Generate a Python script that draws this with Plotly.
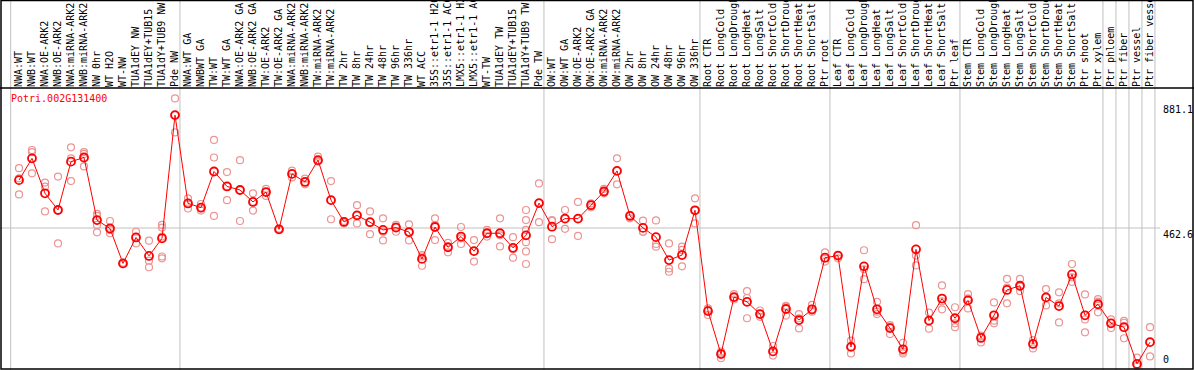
import plotly.graph_objects as go

gene = "Potri.002G131400"

labels = [
    "NWA:WT", "NWB:WT", "NWA:OE-ARK2", "NWB:OE-ARK2", "NWA:miRNA-ARK2", "NWB:miRNA-ARK2",
    "NW 0hr", "WT H2O", "WT-NW", "TUA1dEY NW", "TUA1dEY+TUB15", "TUA1dY+TUB9 NW", "Pde NW",
    "NWA:WT GA", "NWBWT GA", "TW:WT", "TW:WT GA", "NWA:OE-ARK2 GA", "NWB:OE-ARK2 GA",
    "TW:OE-ARK2", "TW:OE-ARK2 GA", "NWA:miRNA-ARK2", "NWB:miRNA-ARK2", "TW:miRNA-ARK2",
    "TW:miRNA-ARK2", "TW 2hr", "TW 8hr", "TW 24hr", "TW 48hr", "TW 96hr", "TW 336hr", "WT ACC",
    "35S::etr1-1 H2O", "35S::etr1-1 ACC", "LMX5::etr1-1 H2O", "LMX5::etr1-1 ACC", "WT-TW",
    "TUA1dEY TW", "TUA1dEY+TUB15", "TUA1dY+TUB9 TW", "Pde TW",
    "OW:WT", "OW:WT GA", "OW:OE-ARK2", "OW:OE-ARK2 GA", "OW:miRNA-ARK2", "OW:miRNA-ARK2",
    "OW 2hr", "OW 8hr", "OW 24hr", "OW 48hr", "OW 96hr", "OW 336hr",
    "Root CTR", "Root LongCold", "Root LongDrought", "Root LongHeat", "Root LongSalt",
    "Root ShortCold", "Root ShortDrought", "Root ShortHeat", "Root ShortSalt", "Ptr root",
    "Leaf CTR", "Leaf LongCold", "Leaf LongDrought", "Leaf LongHeat", "Leaf LongSalt",
    "Leaf ShortCold", "Leaf ShortDrought", "Leaf ShortHeat", "Leaf ShortSalt", "Ptr leaf",
    "Stem CTR", "Stem LongCold", "Stem LongDrought", "Stem LongHeat", "Stem LongSalt",
    "Stem ShortCold", "Stem ShortDrought", "Stem ShortHeat", "Stem ShortSalt", "Ptr shoot",
    "Ptr xylem", "Ptr phloem", "Ptr fiber", "Ptr vessel", "Ptr fiber vessel",
]

mean_values = [
    623, 696, 579, 523, 685, 699, 489, 461, 344, 431, 369, 428, 841,
    545, 531, 652, 602, 590, 550, 583, 458, 644, 617, 690, 556, 483, 505, 482, 456, 464,
    449, 359, 466, 398, 434, 385, 445, 445, 396, 438, 546,
    467, 494, 494, 539, 585, 654, 503, 463, 432, 355, 372, 522,
    184, 40, 231, 215, 174, 49, 191, 154, 190, 363,
    370, 64, 334, 190, 127, 56, 391, 152, 226, 160,
    220, 94, 170, 255, 269, 74, 230, 201, 307, 170,
    207, 143, 130, 7, 80,
]

replicate_values = [
    [663, 629, 575], [724, 717, 646], [615, 601, 518], [635, 523, 411], [733, 696, 620],
    [717, 711, 669], [510, 503, 473, 448], [486, 456, 445], [346, 344, 341], [450, 431, 411],
    [420, 353, 331], [473, 464, 434, 367, 361], [897, 841, 783],
    [562, 545, 528], [543, 528, 521], [758, 699, 503], [650, 602, 556], [690, 590, 486],
    [579, 550, 521], [594, 583, 570], [461, 458, 456], [655, 644, 632], [628, 617, 609],
    [702, 688, 685], [620, 556, 492], [486, 483, 478], [539, 505, 478], [518, 482, 442],
    [495, 450, 421], [473, 467, 450], [475, 449, 421], [372, 367, 336], [495, 473, 422],
    [413, 398, 381], [466, 428, 409], [422, 385, 350], [456, 445, 434], [495, 438, 401],
    [432, 391, 363], [523, 489, 456, 415, 384, 342], [612, 546, 482],
    [489, 486, 425], [523, 494, 460], [550, 494, 436], [545, 539, 532], [594, 585, 579],
    [696, 654, 609], [506, 503, 495], [487, 450, 450], [488, 409, 400], [411, 327, 316],
    [400, 389, 334], [562, 522, 478],
    [193, 188, 171], [48, 42, 26], [241, 230, 223], [251, 228, 160], [186, 174, 165],
    [67, 47, 35], [202, 199, 169], [174, 160, 126], [205, 186, 182], [381, 361, 350],
    [372, 370, 361], [85, 65, 42], [388, 324, 291], [215, 182, 174], [137, 132, 107],
    [78, 48, 42], [472, 370, 337], [179, 152, 125], [270, 217, 190], [197, 143, 130],
    [241, 227, 193], [102, 98, 79], [213, 152, 143], [292, 263, 210], [292, 266, 251],
    [87, 74, 59], [258, 230, 203], [247, 210, 146], [342, 297, 282], [240, 156, 113],
    [224, 216, 180], [156, 145, 127], [151, 145, 93], [28, 0, 0], [130, 80, 32],
]

group_boundaries = [-0.64, 12.38, 40.38, 52.38, 62.38, 72.38, 83.38, 84.38, 85.38, 86.38, 87.38]
y_ticks = [881.1, 462.6, 0]
y_tick_text = ["881.1", "462.6", "0"]

x_idx = list(range(len(labels)))
rep_x, rep_y = [], []
for i, reps in enumerate(replicate_values):
    for v in reps:
        rep_x.append(i)
        rep_y.append(v)

MONO = "DejaVu Sans Mono"
fig = go.Figure()
fig.add_trace(go.Scatter(
    x=rep_x, y=rep_y, mode="markers",
    marker=dict(symbol="circle-open", size=7, color="#ec9494", line=dict(width=1.2)),
    showlegend=False, hoverinfo="y",
))
fig.add_trace(go.Scatter(
    x=x_idx, y=mean_values, mode="lines+markers",
    line=dict(color="#ff0000", width=1),
    marker=dict(symbol="circle-open", size=8, color="#ff0000", line=dict(width=1.8)),
    showlegend=False, hoverinfo="y",
))

W, H, TOP = 1194, 370, 88
plot_h = H - TOP
ytop_paper = 1 + (TOP - 0.5) / plot_h

shapes = []
for b in group_boundaries:
    shapes.append(dict(type="line", xref="x", yref="paper", x0=b, x1=b, y0=0, y1=ytop_paper,
                       line=dict(color="#c0c0c0", width=1), layer="below"))
shapes.append(dict(type="line", xref="paper", yref="y", x0=0, x1=1160 / W, y0=462.6, y1=462.6,
                   line=dict(color="#c0c0c0", width=1), layer="below"))
# frame
shapes.append(dict(type="line", xref="paper", yref="paper", x0=0, x1=1, y0=1, y1=1,
                   line=dict(color="black", width=1.5)))
shapes.append(dict(type="rect", xref="paper", yref="paper", x0=1 / W, x1=1 - 1 / W,
                   y0=1 / plot_h, y1=ytop_paper, line=dict(color="black", width=1.5)))

annotations = [dict(text=gene, xref="paper", yref="paper", x=9 / W, y=(H - 98) / plot_h,
                    xanchor="left", yanchor="middle", showarrow=False,
                    font=dict(family=MONO, size=10, color="#ff0000"))]
for v, t in zip(y_ticks, y_tick_text):
    annotations.append(dict(text=t, xref="paper", yref="y", x=1162 / W, y=v,
                            xanchor="left", yanchor="bottom" if v == 0 else "top",
                            showarrow=False, borderpad=0,
                            font=dict(family=MONO, size=10, color="black")))

fig.update_layout(
    width=W, height=H, margin=dict(l=0, r=0, t=TOP, b=0),
    plot_bgcolor="white", paper_bgcolor="white",
    xaxis=dict(range=[-19 / 13, (W - 19) / 13], side="top", tickmode="array",
               tickvals=x_idx, ticktext=labels, tickangle=-90, showgrid=False,
               zeroline=False, showline=False, ticks="", automargin=False,
               tickfont=dict(family=MONO, size=10, color="black")),
    yaxis=dict(range=[(366 - H) * 462.6 / 138, 366 * 462.6 / 138 - TOP * 462.6 / 138],
               showticklabels=False, showgrid=False, zeroline=False, showline=False,
               automargin=False),
    shapes=shapes, annotations=annotations,
)
fig.write_html("out.html", config={"displayModeBar": False},
               post_script="document.body.style.margin='0';document.body.style.overflow='hidden';")
